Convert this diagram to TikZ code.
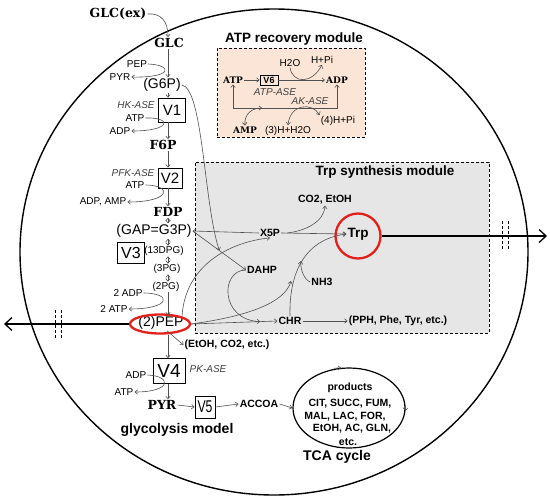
\documentclass[tikz,border=0pt]{standalone}
\usepackage{fontspec}
\setsansfont{Liberation Sans}
\newfontfamily\condfont[FakeStretch=0.72]{Liberation Sans}
\newfontfamily\serifb{DejaVu Serif}
\usetikzlibrary{arrows.meta,shapes.geometric,calc}
\definecolor{peach}{HTML}{FBE5D6}
\definecolor{lgray}{HTML}{E6E6E6}
\definecolor{ringred}{HTML}{E3201B}
\definecolor{conn}{HTML}{505050}
\tikzset{
 ar/.style={draw=conn, line width=0.6pt, -{Straight Barb[length=2.6pt,width=4.4pt]}},
 dar/.style={draw=conn, line width=0.6pt, {Straight Barb[length=2.6pt,width=4.4pt]}-{Straight Barb[length=2.6pt,width=4.4pt]}},
 bigar/.style={line width=2.4pt, -{Straight Barb[length=7pt,width=13pt,line width=1.3pt]}},
 lb/.style={font=\sffamily\fontsize{10}{11}\selectfont, inner sep=1pt},
 lbb/.style={font=\sffamily\bfseries\fontsize{10.5}{12}\selectfont, inner sep=1pt},
 it/.style={font=\sffamily\itshape\fontsize{10}{11}\selectfont, text=black!75, inner sep=1pt},
 sb/.style={font=\serifb\bfseries\fontsize{12.5}{14}\selectfont, inner sep=1pt},
 sbs/.style={font=\serifb\bfseries\fontsize{9}{10}\selectfont, inner sep=1pt},
 mid/.style={font=\sffamily\fontsize{14}{16}\selectfont, inner sep=1pt},
 sm/.style={font=\sffamily\fontsize{10}{11}\selectfont, inner sep=0.5pt},
 vbox/.style={draw, line width=0.9pt, inner sep=0pt, font=\sffamily\fontsize{15}{16}\selectfont},
 title/.style={font=\sffamily\bfseries\fontsize{13.5}{16}\selectfont, inner sep=1pt},
 modbox/.style={draw, line width=1pt, dash pattern=on 3pt off 2pt},
 ring/.style={draw=ringred, line width=2.3pt, inner sep=0pt},
 dmk/.style={line width=1pt, dash pattern=on 3pt off 2pt},
}
\begin{document}
\begin{tikzpicture}[x=1pt,y=-1pt]
\useasboundingbox (0,0) rectangle (550,499);
% cell
\node[draw, ellipse, line width=1.4pt, minimum width=508pt, minimum height=486pt, inner sep=0pt] (cell) at (274,252) {};
% module boxes
\node[modbox, fill=peach, minimum width=148pt, minimum height=89pt] (atpbox) at (291,92.5) {};
\node[modbox, fill=lgray, minimum width=294pt, minimum height=171pt] (trpbox) at (342,247.5) {};
\node[title] (atptitle) at (294,39) {ATP recovery module};
\node[title] (trptitle) at (385,172) {Trp synthesis module};

% ATP module
\node[sbs] (atp6) at (233,80) {ATP};
\node[draw, line width=0.8pt, minimum width=18pt, minimum height=10pt, inner sep=0pt, font=\sffamily\bfseries\fontsize{9}{10}\selectfont] (v6) at (269,80) {V6};
\node[sbs] (adp6) at (337,80) {ADP};
\node[lb] (h2o) at (290,63) {H2O};
\node[lb] (hpi) at (322,60) {H+Pi};
\node[it] (atpase) at (275,92) {ATP-ASE};
\node[it] (akase) at (310,101) {AK-ASE};
\node[sbs] (amp) at (245,130) {AMP};
\node[lb] (h3) at (288,131) {(3)H+H2O};
\node[lb] (h4) at (338,121) {(4)H+Pi};
\coordinate (loopr) at (337,108);
\coordinate (ampj) at (262,108);
\draw[ar] (atp6) -- (v6);
\draw[ar] (v6) -- (adp6);
\draw[ar] (h2o.south) .. controls (293,84) and (312,84) .. (hpi.south);
\draw[dar] (atp6.south) |- (loopr) -- (adp6.south);
\draw[dar] (amp.north) .. controls (244,114) and (252,108) .. (ampj);
\draw[dar] (h3.north) .. controls (290,104) and (312,102) .. (h4.north west);

% glycolysis column
\coordinate (col) at (168,0);
\node[sb] (glcex) at (118,14) {GLC(ex)};
\node[sb] (glc) at (169,43) {GLC};
\node[lb] (pep1) at (137,64) {PEP};
\node[lb] (pyr1) at (120,77) {PYR};
\node[mid] (g6p) at (162,85) {(G6P)};
\node[vbox, minimum width=27pt, minimum height=24pt] (v1) at (172,110) {V1};
\node[it] (hk) at (136,105) {HK-ASE};
\node[lb] (atp1) at (135,118) {ATP};
\node[lb] (adp1) at (120,131) {ADP};
\node[sb] (f6p) at (163,145) {F6P};
\node[it] (pfk) at (133,173) {PFK-ASE};
\node[vbox, minimum width=24pt, minimum height=20pt] (v2) at (170,178) {V2};
\node[lb] (atp2) at (135,185) {ATP};
\node[lb] (adp2) at (103,202) {ADP, AMP};
\node[sb] (fdp) at (168,212) {FDP};
\node[mid] (g3p) at (154,231) {(GAP=G3P)};
\node[vbox, minimum width=27pt, minimum height=21pt, font=\sffamily\fontsize{16}{16}\selectfont] (v3) at (131,253) {V3};
\node[sm] (dpg13) at (164,251) {(13DPG)};
\node[sm] (pg3) at (167,269) {(3PG)};
\node[sm] (pg2) at (166,287) {(2PG)};
\node[lb] (adp3) at (128,293) {2 ADP};
\node[lb] (atp3) at (114,309) {2 ATP};
\node[mid] (pep) at (161,323) {(2)PEP};
\node[ring, ellipse, minimum width=60pt, minimum height=19pt] (pepring) at (160,324) {};
\node[vbox, minimum width=32pt, minimum height=25pt, font=\sffamily\fontsize{19}{19}\selectfont] (v4) at (169,371) {V4};
\node[it] (pk) at (208,369) {PK-ASE};
\node[lb] (adp4) at (136,375) {ADP};
\node[lb] (atp4) at (124,392) {ATP};
\node[sb] (pyr) at (162,405) {PYR};
\node[vbox, minimum width=20pt, minimum height=22pt, font=\condfont\fontsize{17}{17}\selectfont] (v5) at (205,407) {V5};
\node[lbb] (accoa) at (259,404) {ACCOA};
\node[title, font=\sffamily\bfseries\fontsize{14}{16}\selectfont] (glymodel) at (177,430) {glycolysis model};
\node[lbb] (etoh) at (227,345) {(EtOH, CO2, etc.)};

% TCA
\node[draw, ellipse, line width=1.2pt, minimum width=112pt, minimum height=80pt, inner sep=0pt] (tca) at (349,408) {};
\node[lbb] (prod) at (350,388) {products};
\node[lbb] (prod1) at (350,404) {CIT, SUCC, FUM,};
\node[lbb] (prod2) at (345,417) {MAL, LAC, FOR,};
\node[lbb] (prod3) at (352,429) {EtOH, AC, GLN,};
\node[lbb] (prod4) at (348,442) {etc.};
\node[title, font=\sffamily\bfseries\fontsize{14}{16}\selectfont] (tcacycle) at (337,457) {TCA cycle};

% Trp module
\node[lbb] (co2) at (325,200) {CO2, EtOH};
\node[lbb] (x5p) at (270,233) {X5P};
\node[font=\sffamily\bfseries\fontsize{13.5}{15}\selectfont, inner sep=1pt] (trp) at (358,234) {Trp};
\node[ring, circle, minimum size=45pt] (trpring) at (358,236) {};
\node[lbb] (dahp) at (262,270) {DAHP};
\node[lbb] (nh3) at (322,282) {NH3};
\node[lbb] (chr) at (290,321) {CHR};
\node[lbb] (pph) at (398,321) {(PPH, Phe, Tyr, etc.)};

% glycolysis connectors
\draw[ar] (glcex.east) .. controls (160,13) and (168,20) .. (glc.north -| col);
\draw[ar] (glc.south -| col) -- (g6p.north -| col);
\draw[ar] (pep1.east) .. controls (173,65) and (173,78) .. (pyr1.east);
\draw[ar] (g6p.south -| col) -- (v1.north -| col);
\draw[ar] (v1.south -| col) -- (f6p.north -| col);
\draw[ar] (atp1.east) .. controls (172,117) and (172,131) .. (adp1.east);
\draw[ar] (f6p.south -| col) -- (v2.north -| col);
\draw[ar] (v2.south -| col) -- (fdp.north -| col);
\draw[ar] (atp2.east) .. controls (172,185) and (172,202) .. (adp2.east);
\draw[dar] (fdp.south -| col) -- (g3p.north -| col);
\draw[dar] (g3p.south -| col) -- (dpg13.north -| col);
\draw[dar] (dpg13.south -| col) -- (pg3.north -| col);
\draw[dar] (pg3.south -| col) -- (pg2.north -| col);
\draw[ar] (pg2.south -| col) -- (pep.north -| col);
\draw[ar] (adp3.east) .. controls (172,293) and (172,309) .. (atp3.east);
\draw[ar] (pepring.south -| col) -- (v4.north -| col);
\draw[ar] ($(pep.south)+(6,0)$) -- (etoh.west);
\draw[ar] (adp4.east) .. controls (172,376) and (172,392) .. (atp4.east);
\draw[ar] (v4.south -| col) -- (pyr.north -| col);
\draw[ar] (pyr.east) -- (v5.west);
\draw[ar] (v5.east) -- (accoa.west);
\draw[ar] (accoa.east) -- (tca.west);
\draw[ar] ($(tca.north)+(-15,0.9)$) -- ($(tca.north)+(-8,0.3)$);
\draw[ar] ($(tca.east)+(0,-3)$) -- ($(tca.east)+(-0.2,3)$);

% Trp module connectors
\coordinate (g6pend) at ($(g3p.east)!0.5!(dahp.west)$);
\coordinate (dahpend) at ($(pepring.east)!0.8!(chr.west)$);
\coordinate (x5pbr) at (287,233);
\coordinate (join) at (291,281);
\coordinate (nh3j) at (301,261);
\draw[ar] (x5p.west) -- (g3p.east);
\draw[ar] (x5p.east) -- (trp.west);
\draw[ar] (x5pbr) .. controls (305,231) and (324,222) .. (co2.south);
\draw[ar] (g3p.east) -- (dahp.west);
\draw[ar] (g6p.east) .. controls (203,88) and (204,205) .. (g6pend);
\draw[ar] (pepring.north east) .. controls (185,265) and (230,242) .. (x5p.south);
\draw[ar] (dahp.west) .. controls (220,270) and (220,320) .. (dahpend);
\draw[ar] (pepring.east) -- (chr.west);
\draw[ar] (chr.north) .. controls (289,280) and (300,240) .. (trp.west);
\draw[ar] (pepring.east) .. controls (250,316) and (285,302) .. (join);
\draw[ar] (nh3.west) .. controls (304,280) and (300,268) .. (nh3j);
\draw[ar] (chr.east) -- (pph.west);

% export arrows
\coordinate (trpout) at (547,236);
\coordinate (pepout) at (4,324);
\draw[bigar] (trpring.east) -- (trpout);
\draw[bigar] (pepring.west) -- (pepout);
\draw[dmk] (502,221) -- (502,249);
\draw[dmk] (508,221) -- (508,249);
\draw[dmk] (55,310) -- (55,338);
\draw[dmk] (61,310) -- (61,338);
\end{tikzpicture}
\end{document}
